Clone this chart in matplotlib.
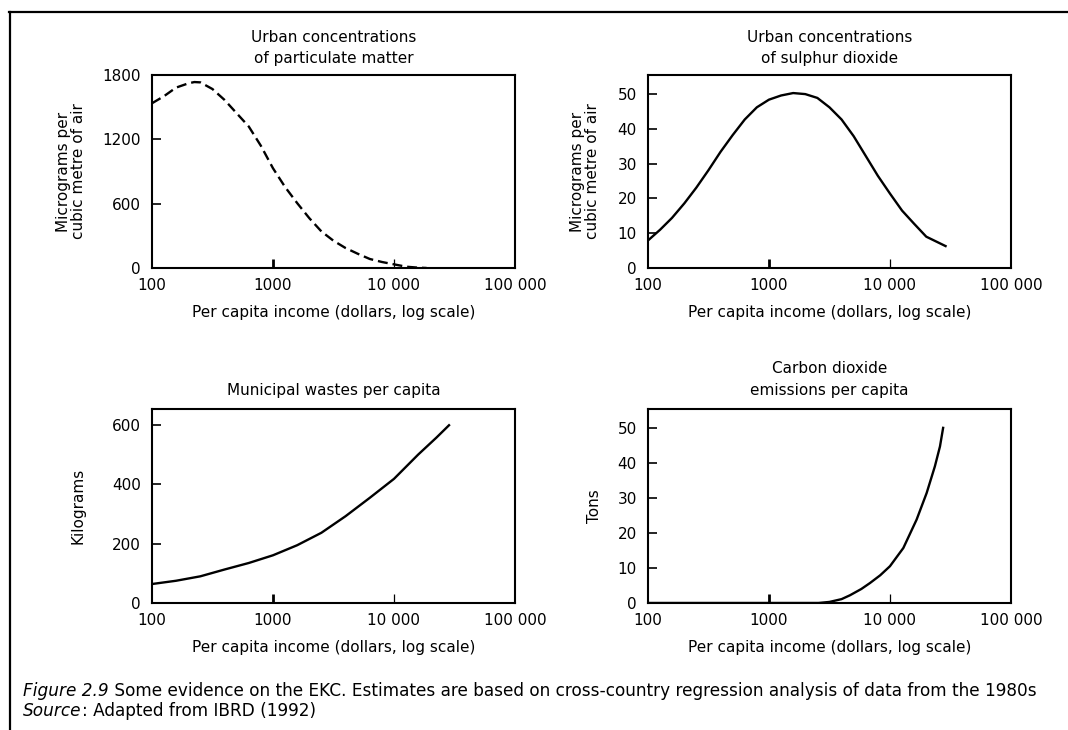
import matplotlib
matplotlib.use('Agg')
from matplotlib import pyplot as plt
from matplotlib.lines import Line2D

plt.rcParams['font.family'] = ['DejaVu Sans']

income_ticks = [100, 1000, 10000, 100000]
income_labels = ['100', '1000', '10 000', '100 000']
xlabel = 'Per capita income (dollars, log scale)'

# urban particulate matter (dashed curve)
pm_income = [100, 126, 158, 200, 224, 251, 316, 398, 501, 631, 794, 1000,
             1259, 1585, 1995, 2512, 3162, 3981, 5012, 6310, 7943, 10000,
             12589, 15849, 18600]
pm_values = [1536, 1603, 1682, 1722, 1734, 1731, 1669, 1567, 1443, 1319,
             1140, 930, 755, 605, 465, 341, 254, 186, 133, 84, 56, 34, 12,
             3, 0]

# urban sulphur dioxide
so2_income = [100, 126, 158, 200, 251, 316, 398, 501, 631, 794, 1000, 1259,
              1585, 1995, 2512, 3162, 3981, 5012, 6310, 7943, 10000, 12589,
              15849, 19953, 28800]
so2_values = [7.9, 11, 14.4, 18.6, 23.1, 28.1, 33.4, 38.2, 42.7, 46.2, 48.4,
              49.6, 50.3, 50.0, 48.9, 46.2, 42.7, 37.9, 32.2, 26.5, 21.4,
              16.5, 12.7, 9.0, 6.3]

# municipal wastes
waste_income = [100, 158, 251, 398, 631, 1000, 1585, 2512, 3981, 6310,
                10000, 15849, 22387, 28500]
waste_values = [64, 75, 90, 113, 135, 161, 195, 237, 293, 355, 419, 501,
                558, 600]

# carbon dioxide
co2_income = [100, 1000, 2570, 3162, 3981, 4670, 5800, 6840, 8300, 10000,
              12900, 16600, 20100, 23500, 25900, 27500]
co2_values = [0, 0, 0, 0.3, 1.1, 2.2, 4.0, 5.7, 7.9, 10.5, 15.7, 23.8, 31.4,
              39.0, 44.7, 50]

panels = [
    dict(rect=[0.1423, 0.6329, 0.3399, 0.2644],
         title='Urban concentrations\nof particulate matter', pad=8.5,
         ylabel='Micrograms per\ncubic metre of air', ylab_x=-0.182,
         x=pm_income, y=pm_values, ls=(0, (4.2, 2.1)),
         yticks=[0, 600, 1200, 1800], ylim=(0, 1800)),
    dict(rect=[0.6067, 0.6329, 0.3399, 0.2644],
         title='Urban concentrations\nof sulphur dioxide', pad=8.5,
         ylabel='Micrograms per\ncubic metre of air', ylab_x=-0.132,
         x=so2_income, y=so2_values, ls='-',
         yticks=[0, 10, 20, 30, 40, 50], ylim=(0, 55.5)),
    dict(rect=[0.1423, 0.1740, 0.3399, 0.2658],
         title='Municipal wastes per capita', pad=10,
         ylabel='Kilograms', ylab_x=-0.182,
         x=waste_income, y=waste_values, ls='-',
         yticks=[0, 200, 400, 600], ylim=(0, 655)),
    dict(rect=[0.6067, 0.1740, 0.3399, 0.2658],
         title='Carbon dioxide\nemissions per capita', pad=10,
         ylabel='Tons', ylab_x=-0.127,
         x=co2_income, y=co2_values, ls='-',
         yticks=[0, 10, 20, 30, 40, 50], ylim=(0, 55.4)),
]

fig = plt.figure(figsize=(10.68, 7.30), dpi=100)

for p in panels:
    ax = fig.add_axes(p['rect'])
    ax.plot(p['x'], p['y'], color='black', lw=1.7, linestyle=p['ls'])
    ax.set_xscale('log')
    ax.set_xlim(100, 100000)
    ax.set_ylim(*p['ylim'])
    ax.set_xticks(income_ticks, income_labels)
    ax.minorticks_off()
    ax.set_yticks(p['yticks'])
    ax.tick_params(axis='both', direction='in', length=6.5, width=1.2,
                   labelsize=11, pad=8)
    ax.tick_params(axis='x', pad=7)
    ax.xaxis.get_major_ticks()[1].tick1line.set_markeredgewidth(2)
    ax.xaxis.get_major_ticks()[2].tick1line.set_markeredgewidth(0.9)
    for sp in ax.spines.values():
        sp.set_linewidth(1.5)
    ax.set_title(p['title'], fontsize=11, linespacing=1.55, pad=p['pad'])
    ax.set_xlabel(xlabel, fontsize=11, labelpad=9)
    ax.set_ylabel(p['ylabel'], fontsize=11, linespacing=1.0)
    ax.yaxis.set_label_coords(p['ylab_x'], 0.5)

# frame round the figure (only top and left edges are visible)
fig.add_artist(Line2D([9 / 1068, 1], [1 - 12 / 730] * 2,
                      transform=fig.transFigure, color='black', lw=1.6))
fig.add_artist(Line2D([10 / 1068] * 2, [0, 1 - 12 / 730],
                      transform=fig.transFigure, color='black', lw=1.6))

# caption: italic lead word followed by plain text
cap1 = fig.text(23 / 1068, 1 - 700 / 730, 'Figure 2.9', fontsize=12.2,
                style='italic', va='bottom')
fig.add_artist(matplotlib.text.Annotation(
    ' Some evidence on the EKC. Estimates are based on '
    'cross-country regression analysis of data from the 1980s',
    xy=(1, 0), xycoords=cap1, va='bottom', fontsize=12.2))
cap2 = fig.text(23 / 1068, 1 - 720 / 730, 'Source', fontsize=12.2,
                style='italic', va='bottom')
fig.add_artist(matplotlib.text.Annotation(
    ': Adapted from IBRD (1992)', xy=(1, 0), xycoords=cap2,
    va='bottom', fontsize=12.2))

fig.savefig('out.png', dpi=100)
